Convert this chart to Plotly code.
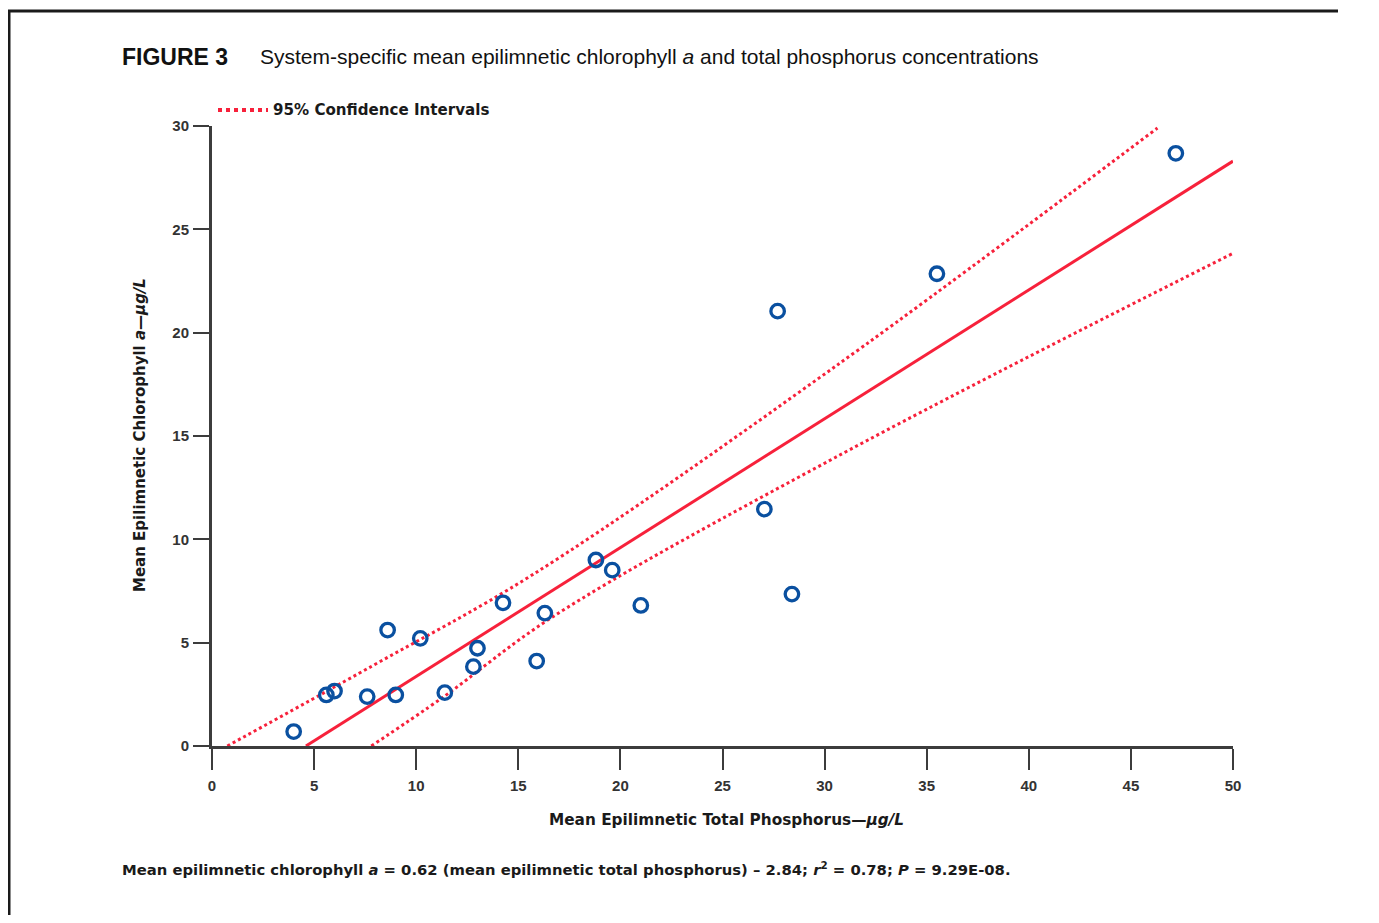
import plotly.graph_objects as go

# ---- data ----
tp = [4.0, 5.6, 6.0, 7.6, 8.6, 9.0, 10.2, 11.4, 12.8, 13.0, 14.25, 15.9, 16.3,
      18.8, 19.6, 21.0, 27.05, 27.7, 28.4, 35.5, 47.2]
chl = [0.7, 2.47, 2.66, 2.39, 5.61, 2.47, 5.21, 2.58, 3.84, 4.73, 6.93, 4.11, 6.43,
       9.0, 8.51, 6.8, 11.46, 21.04, 7.35, 22.85, 28.68]

fit_x = [4.6, 50.0]
fit_y = [0.0, 28.3]

ci_upper_x = [0.75, 7.84, 15.67, 30.5, 46.3]
ci_upper_y = [0.0, 3.87, 8.27, 18.35, 29.9]
ci_lower_x = [7.8, 11.3, 16.7, 30.5, 50.0]
ci_lower_y = [0.0, 2.35, 6.26, 13.95, 23.84]

x_ticks = [0, 5, 10, 15, 20, 25, 30, 35, 40, 45, 50]
y_ticks = [0, 5, 10, 15, 20, 25, 30]

# ---- layout geometry (figure px; body margin 8px) ----
W, H = 1363, 907
L, R, T, B = 204, 138, 118, 169
PW, PH = W - L - R, H - T - B


def px(fx):
    return (fx - L) / PW


def py(fy):
    return (H - B - fy) / PH


RED = "#f7213b"
BLUE = "#0a50a0"
AX = "#3c3c3c"
FONT = "Liberation Sans, Arial, sans-serif"
WIDE = "DejaVu Sans, Liberation Sans, sans-serif"

fig = go.Figure()
fig.add_trace(go.Scatter(x=ci_upper_x, y=ci_upper_y, mode="lines",
                         line=dict(color=RED, width=3, dash="dot", shape="spline"),
                         showlegend=False, hoverinfo="skip"))
fig.add_trace(go.Scatter(x=ci_lower_x, y=ci_lower_y, mode="lines",
                         line=dict(color=RED, width=3, dash="dot", shape="spline"),
                         showlegend=False, hoverinfo="skip"))
fig.add_trace(go.Scatter(x=fit_x, y=fit_y, mode="lines",
                         line=dict(color=RED, width=3), showlegend=False))
fig.add_trace(go.Scatter(x=tp, y=chl, mode="markers",
                         marker=dict(symbol="circle-open", size=13.5, color=BLUE,
                                     line=dict(width=3.3, color=BLUE)),
                         showlegend=False))

axis_common = dict(showgrid=False, zeroline=False, showline=True, linecolor=AX,
                   linewidth=3, ticks="outside", tickcolor=AX, tickwidth=2,
                   tickfont=dict(family=FONT, size=15, color="#333333", weight="bold"))
fig.update_xaxes(range=[0, 50], tickvals=x_ticks, ticklen=21, ticklabelstandoff=3,
                 **axis_common)
fig.update_yaxes(range=[0, 30], tickvals=y_ticks, ticklen=16, ticklabelstandoff=1,
                 **axis_common)

ann = [
    dict(x=px(112), y=py(49), text="FIGURE 3", xanchor="left", yanchor="middle",
         font=dict(family=FONT, size=23, color="#111111", weight="bold")),
    dict(x=px(250), y=py(49),
         text="System-specific mean epilimnetic chlorophyll <i>a</i> and total phosphorus concentrations",
         xanchor="left", yanchor="middle",
         font=dict(family=FONT, size=21, color="#111111")),
    dict(x=px(263), y=py(102), text="95% Confidence Intervals", xanchor="left",
         yanchor="middle", font=dict(family=WIDE, size=15.1, color="#1a1a1a", weight="bold")),
    dict(x=px(718), y=py(812), text="Mean Epilimnetic Total Phosphorus\u2014<i>\u00b5g/L</i>",
         xanchor="center", yanchor="middle",
         font=dict(family=WIDE, size=15.3, color="#1a1a1a", weight="bold")),
    dict(x=px(132), y=py(427), text="Mean Epilimnetic Chlorophyll <i>a</i>\u2014<i>\u00b5g/L</i>",
         xanchor="center", yanchor="middle", textangle=-90,
         font=dict(family=WIDE, size=15, color="#1a1a1a", weight="bold")),
    dict(x=px(112), y=py(860),
         text="Mean epilimnetic chlorophyll <i>a</i> = 0.62 (mean epilimnetic total phosphorus) \u2013 2.84; "
              "<i>r</i><sup>2</sup> = 0.78; <i>P</i> = 9.29E-08.",
         xanchor="left", yanchor="middle",
         font=dict(family=WIDE, size=14.8, color="#1a1a1a", weight="bold")),
]
for a in ann:
    a.update(xref="paper", yref="paper", showarrow=False)

shapes = [
    # legend key
    dict(type="line", xref="paper", yref="paper", x0=px(210), x1=px(260),
         y0=py(102), y1=py(102), line=dict(color=RED, width=4, dash="dot")),
    # page frame (top and left rules)
    dict(type="line", xref="paper", yref="paper", x0=px(-10), x1=px(1330),
         y0=py(3), y1=py(3), line=dict(color="#1a1a1a", width=3)),
    dict(type="line", xref="paper", yref="paper", x0=px(1), x1=px(1),
         y0=py(2), y1=py(H + 10), line=dict(color="#1a1a1a", width=3)),
]

fig.update_layout(width=W, height=H, margin=dict(l=L, r=R, t=T, b=B),
                  paper_bgcolor="white", plot_bgcolor="white",
                  annotations=ann, shapes=shapes, showlegend=False)

fig.write_html("out.html")
